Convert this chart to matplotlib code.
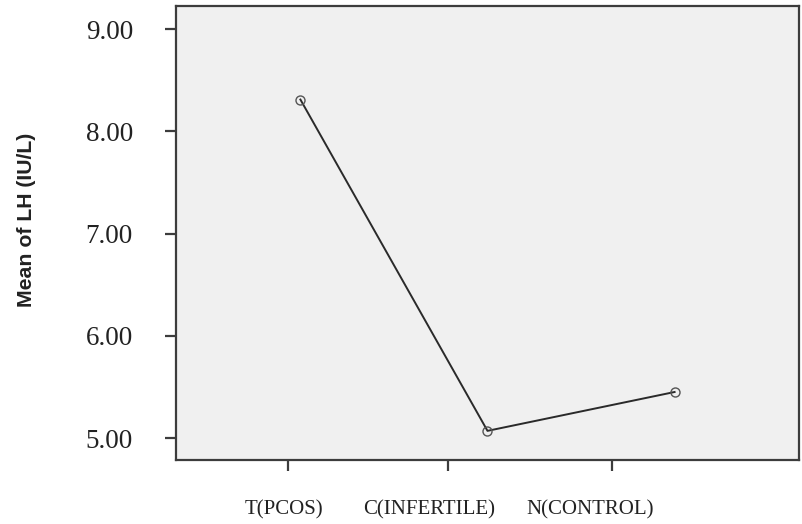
import matplotlib
matplotlib.use("Agg")
import matplotlib.pyplot as plt

groups = ["T(PCOS)", "C(INFERTILE)", "N(CONTROL)"]
mean_lh = [8.31, 5.07, 5.45]
y_ticks = [5.00, 6.00, 7.00, 8.00, 9.00]

# category axis offsets used for the tick marks and their labels
tick_pos = [-0.064, 0.79, 1.668]
label_pos = [-0.086, 0.69, 1.55]

fig = plt.figure(figsize=(8.03, 5.24), dpi=100)
ax = fig.add_axes([176 / 803, 1 - 460 / 524, (799 - 176) / 803, (460 - 6) / 524])
ax.set_facecolor("#f0f0f0")

x = list(range(len(groups)))
ax.plot(x, mean_lh, color="#2a2a2a", lw=1.4,
        marker="o", ms=6.5, mfc="none", mec="#555555", mew=1.0)

ax.set_xlim(-0.665, 2.665)
ax.set_ylim(4.785, 9.225)

ax.set_yticks(y_ticks)
ax.set_yticklabels([f"{v:.2f}" for v in y_ticks],
                   fontfamily="Liberation Serif", fontsize=19.5, color="#222222")
ax.set_xticks(tick_pos)
ax.set_xticklabels([])
for xp, name in zip(label_pos, groups):
    ax.text(xp, -0.11, name, transform=ax.get_xaxis_transform(),
            ha="center", va="center", fontfamily="Liberation Serif",
            fontsize=15, color="#222222")

for s in ax.spines.values():
    s.set_color("#3c3c3c")
    s.set_linewidth(1.6)
ax.tick_params(axis="both", direction="out", length=8, width=1.6,
               color="#3c3c3c")
ax.tick_params(axis="y", pad=23)

fig.text(27 / 803, 1 - 220 / 524, "Mean of LH (IU/L)", rotation=90,
         ha="center", va="center", fontfamily="Liberation Sans",
         fontweight="bold", fontsize=15.3, color="#222222")

fig.savefig("out.png", dpi=100)
